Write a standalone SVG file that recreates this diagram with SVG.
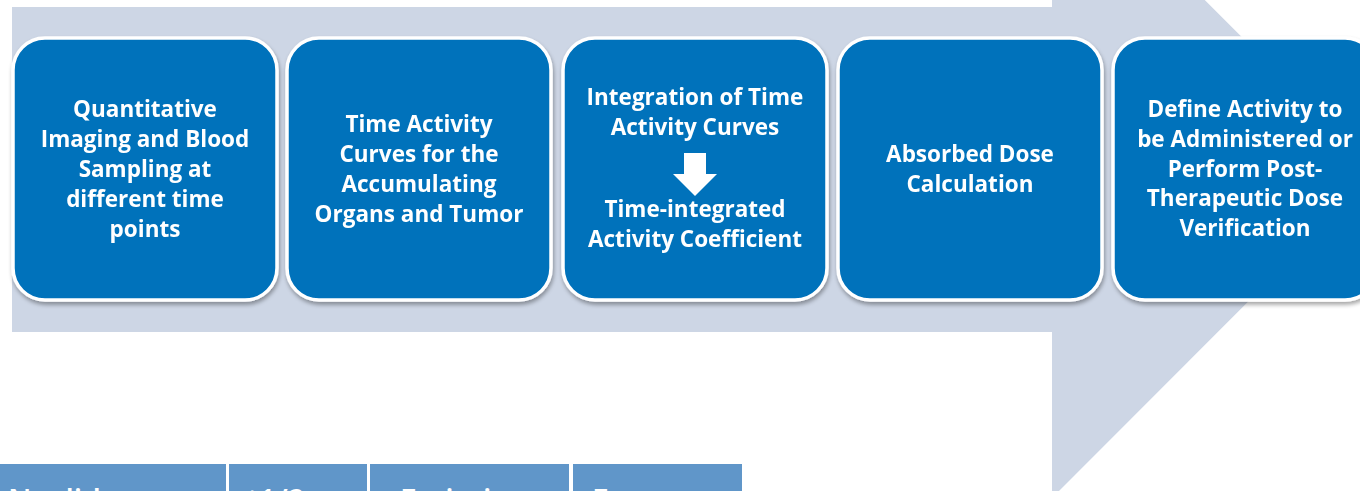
<svg xmlns="http://www.w3.org/2000/svg" width="1360" height="491" viewBox="0 0 1360 491">
  <defs>
    <filter id="shadow" x="-10%" y="-10%" width="120%" height="125%">
      <feGaussianBlur in="SourceAlpha" stdDeviation="2"/>
      <feOffset dx="1" dy="3" result="off"/>
      <feComponentTransfer><feFuncA type="linear" slope="0.35"/></feComponentTransfer>
      <feMerge><feMergeNode/><feMergeNode in="SourceGraphic"/></feMerge>
    </filter>
  </defs>
  <style>
    .step { fill: #0072bb; stroke: #ffffff; stroke-width: 3.5; }
    .label { font-family: "Open Sans", "DejaVu Sans", sans-serif; font-weight: bold; font-size: 22.5px; fill: #ffffff; text-anchor: middle; }
    .cell { fill: #6096c9; }
    .head { font-family: "Open Sans", "DejaVu Sans", sans-serif; font-weight: 600; font-size: 30px; fill: #ffffff; }
  </style>

  <rect width="1360" height="491" fill="#ffffff"/>

  <!-- large process arrow behind the steps -->
  <polygon points="12,7 1052,7 1052,-153 1377,172.5 1052,498 1052,332 12,332" fill="#cdd6e5"/>

  <g id="step1" filter="url(#shadow)">
    <rect class="step" x="13" y="38" width="264" height="262" rx="32"/>
    <text class="label" x="145" y="117">Quantitative</text>
    <text class="label" x="145" y="147">Imaging and Blood</text>
    <text class="label" x="145" y="177">Sampling at</text>
    <text class="label" x="145" y="207">different time</text>
    <text class="label" x="145" y="237">points</text>
  </g>

  <g id="step2" filter="url(#shadow)">
    <rect class="step" x="287" y="38" width="264" height="262" rx="32"/>
    <text class="label" x="419" y="132">Time Activity</text>
    <text class="label" x="419" y="162">Curves for the</text>
    <text class="label" x="419" y="192">Accumulating</text>
    <text class="label" x="419" y="222">Organs and Tumor</text>
  </g>

  <g id="step3" filter="url(#shadow)">
    <rect class="step" x="563" y="38" width="264" height="262" rx="32"/>
    <text class="label" x="695" y="105">Integration of Time</text>
    <text class="label" x="695" y="135">Activity Curves</text>
    <polygon points="684,153 706,153 706,174 717,174 695,196 673,174 684,174" fill="#ffffff"/>
    <text class="label" x="695" y="217">Time-integrated</text>
    <text class="label" x="695" y="247">Activity Coefficient</text>
  </g>

  <g id="step4" filter="url(#shadow)">
    <rect class="step" x="838" y="38" width="264" height="262" rx="32"/>
    <text class="label" x="970" y="162">Absorbed Dose</text>
    <text class="label" x="970" y="192">Calculation</text>
  </g>

  <g id="step5" filter="url(#shadow)">
    <rect class="step" x="1113" y="38" width="264" height="262" rx="32"/>
    <text class="label" x="1245" y="117">Define Activity to</text>
    <text class="label" x="1245" y="147">be Administered or</text>
    <text class="label" x="1245" y="177">Perform Post-</text>
    <text class="label" x="1245" y="206">Therapeutic Dose</text>
    <text class="label" x="1245" y="236">Verification</text>
  </g>

  <g id="connectors"></g>

  <!-- table header row, cut by the lower edge -->
  <g id="table">
    <rect class="cell" x="0" y="464" width="226" height="40"/>
    <rect class="cell" x="229" y="464" width="138" height="40"/>
    <rect class="cell" x="370" y="464" width="199" height="40"/>
    <rect class="cell" x="573" y="464" width="169" height="40"/>
    <text class="head" x="8" y="511">Nuclide</text>
    <text class="head" x="247" y="511">t1/2</text>
    <text class="head" x="400" y="511">Emission</text>
    <text class="head" x="592" y="511">Emax</text>
  </g>
</svg>
